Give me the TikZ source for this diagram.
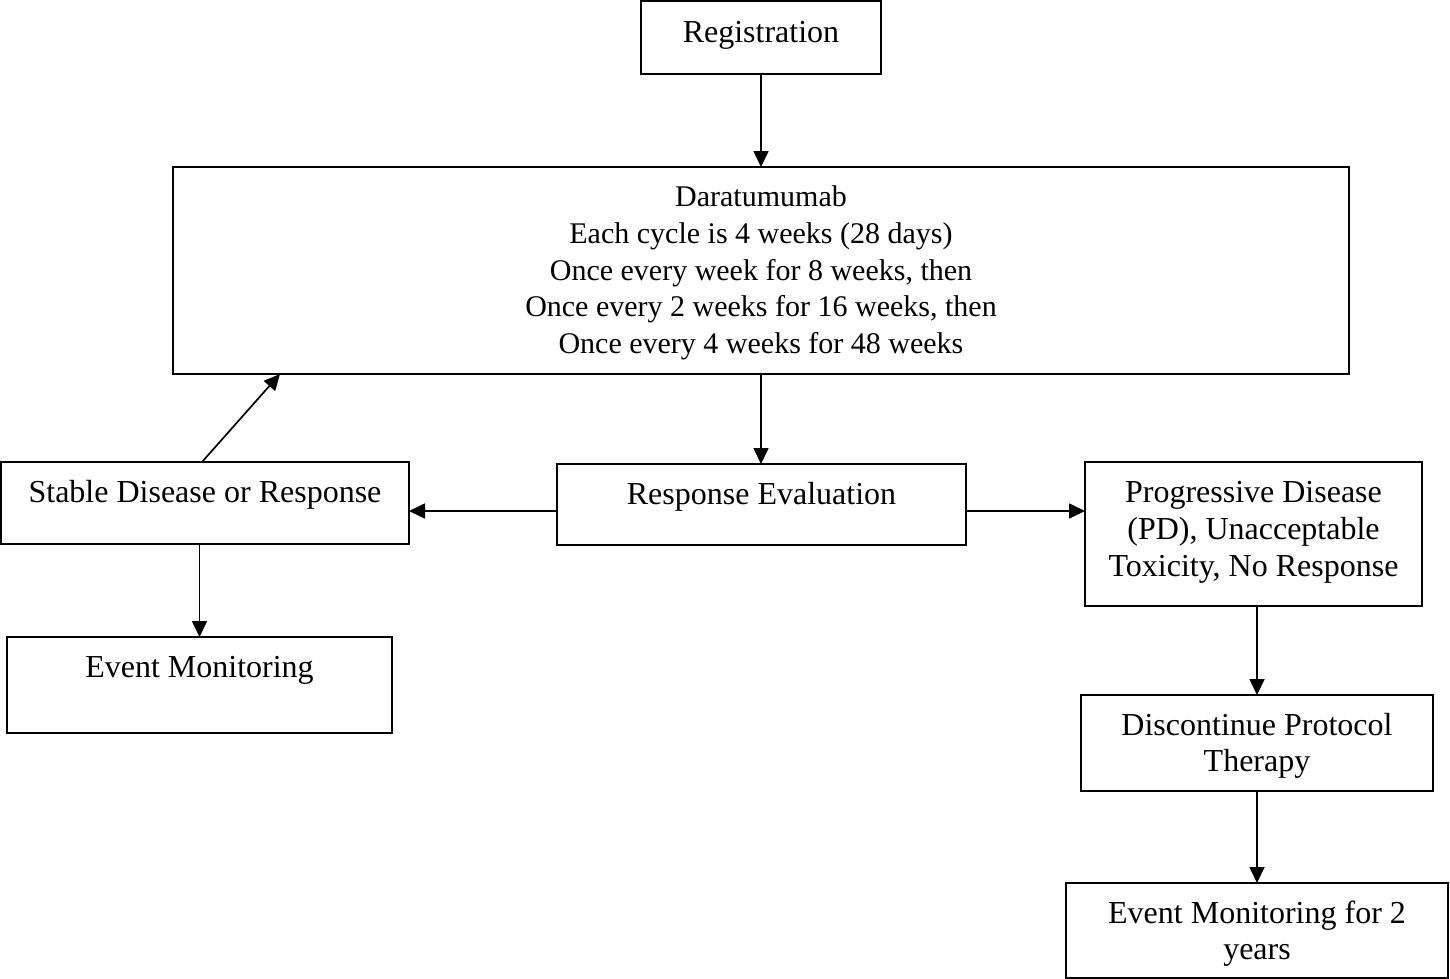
\documentclass[tikz,border=0pt]{standalone}
\usepackage{fontspec}
\setmainfont{Liberation Serif}
\usetikzlibrary{arrows.meta,calc}
\tikzset{
  box/.style={draw=black, line width=1.8pt, fill=white, rectangle, inner sep=0pt, outer sep=0pt, anchor=north west},
  lbl/.style={anchor=base, align=center, inner sep=0pt, font=\fontsize{32}{36.6}\selectfont},
  lblsmall/.style={lbl, font=\fontsize{30}{36.7}\selectfont},
  arr/.style={line width=1.7pt, -{Triangle[length=16pt,width=15pt]}},
}
\begin{document}
\begin{tikzpicture}[x=1pt,y=-1pt]
\useasboundingbox (0,0) rectangle (1450,979);
% boxes
\node[box, minimum width=240pt, minimum height=73pt] (reg) at (641,1) {};
\node[box, minimum width=1176pt, minimum height=207pt] (dara) at (173,167) {};
\node[box, minimum width=408pt, minimum height=82pt] (stable) at (1,462) {};
\node[box, minimum width=409pt, minimum height=81pt] (resp) at (557,464) {};
\node[box, minimum width=337pt, minimum height=144pt] (prog) at (1085,462) {};
\node[box, minimum width=385pt, minimum height=96pt] (evl) at (7,637) {};
\node[box, minimum width=352pt, minimum height=96pt] (disc) at (1081,695) {};
\node[box, minimum width=382pt, minimum height=95pt] (ev2) at (1066,883) {};
% texts (base anchor = baseline of the last line)
\node[lbl] (regT) at ($(reg.north)+(0,42)$) {Registration};
\node[lblsmall] (daraT) at ($(dara.north)+(0,186.5)$) {Daratumumab\\Each cycle is 4 weeks (28 days)\\Once every week for 8 weeks, then\\Once every 2 weeks for 16 weeks, then\\Once every 4 weeks for 48 weeks};
\node[lbl] (stableT) at ($(stable.north)+(0,40)$) {Stable Disease or Response};
\node[lbl] (respT) at ($(resp.north)+(0,40)$) {Response Evaluation};
\node[lbl] (progT) at ($(prog.north)+(0,114)$) {Progressive Disease\\(PD), Unacceptable\\Toxicity, No Response};
\node[lbl] (evlT) at ($(evl.north)+(0,40)$) {Event Monitoring};
\node[lbl] (discT) at ($(disc.north)+(0,76.6)$) {Discontinue Protocol\\Therapy};
\node[lbl] (ev2T) at ($(ev2.north)+(0,76.6)$) {Event Monitoring for 2\\years};
% connectors
\draw[arr] (reg.south) -- (reg.south |- dara.north);
\draw[arr] (dara.south) -- (dara.south |- resp.north);
\draw[arr] ($(resp.north west)+(0,47)$) -- ($(stable.north east)+(0,49)$);
\draw[arr] ($(resp.north east)+(0,47)$) -- ($(prog.north west)+(0,49)$);
\draw[arr] ($(stable.north west)+(201,0)$) -- ($(dara.south west)+(107,0)$);
\draw[arr] (evl.north |- stable.south) -- (evl.north);
\draw[arr] (disc.north |- prog.south) -- (disc.north);
\draw[arr] (disc.south) -- (disc.south |- ev2.north);
\end{tikzpicture}
\end{document}
